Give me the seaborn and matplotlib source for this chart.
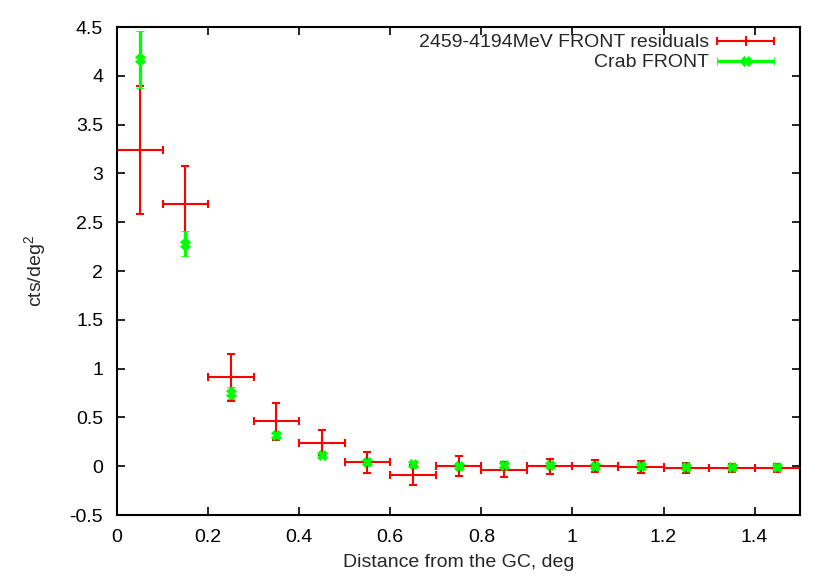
import numpy as np
import seaborn as sns
import matplotlib
matplotlib.use('Agg')
import matplotlib.pyplot as plt
from matplotlib.ticker import FuncFormatter, MultipleLocator
from matplotlib.container import ErrorbarContainer
from matplotlib.legend_handler import HandlerErrorbar

# Radial bins (deg from the GC)
bin_centers = [0.05, 0.15, 0.25, 0.35, 0.45, 0.55, 0.65, 0.75,
               0.85, 0.95, 1.05, 1.15, 1.25, 1.35, 1.45]
bin_half_width = [0.05] * 15

# 2459-4194MeV FRONT residuals
resid_counts = [3.24, 2.69, 0.91, 0.46, 0.24, 0.04, -0.09, 0.00,
                -0.035, 0.00, 0.00, -0.01, -0.015, -0.02, -0.02]
resid_err = [0.66, 0.39, 0.24, 0.19, 0.13, 0.11, 0.10, 0.10,
             0.077, 0.077, 0.063, 0.06, 0.05, 0.04, 0.04]

# Crab FRONT profile
crab_counts = [4.17, 2.28, 0.75, 0.32, 0.11, 0.045, 0.025, 0.007,
               0.01, 0.01, 0.00, 0.00, -0.005, -0.01, -0.01]
crab_err = [0.29, 0.13, 0.065, 0.03, 0.015, 0.01, 0.008, 0.006,
            0.005, 0.005, 0.005, 0.005, 0.004, 0.004, 0.004]

labels = ['2459-4194MeV FRONT residuals', 'Crab FRONT']

FS = 14

sns.set_theme(style='ticks')
plt.rcParams['font.family'] = ['Liberation Sans', 'DejaVu Sans']
plt.rcParams['axes.unicode_minus'] = False

fig = plt.figure(figsize=(8.3, 5.82), dpi=100)
ax = fig.add_axes([0.141, 0.1151, 0.823, 0.8385])

red = ax.errorbar(bin_centers, resid_counts, xerr=bin_half_width, yerr=resid_err,
                  fmt='|', color='#ff0000', markersize=7, markeredgewidth=1.5,
                  ecolor='#ff0000', elinewidth=1.5, capsize=2.6, capthick=1.5,
                  zorder=2)
green = ax.errorbar(bin_centers, crab_counts, yerr=crab_err,
                    fmt='X', color='#00ff00', markersize=6.5, markeredgewidth=0.6,
                    ecolor='#00ff00', elinewidth=2.4, capsize=2.6, capthick=2.4,
                    zorder=3)
# legend proxy: gnuplot draws the error bar key horizontally
crab_key = ax.errorbar([np.nan], [np.nan], xerr=[0.05], yerr=[0.05],
                       fmt='X', color='#00ff00', markersize=6.5, markeredgewidth=0.6,
                       ecolor='#00ff00', elinewidth=2.4, capsize=2.6, capthick=2.4)

ax.set_xlim(0, 1.5)
ax.set_ylim(-0.5, 4.5)
ax.xaxis.set_major_locator(MultipleLocator(0.2))
ax.yaxis.set_major_locator(MultipleLocator(0.5))
fmt = FuncFormatter(lambda v, p: '%g' % round(v, 3))
ax.xaxis.set_major_formatter(fmt)
ax.yaxis.set_major_formatter(fmt)

ax.tick_params(direction='in', length=6, width=1.2, top=True, right=True,
               labelsize=FS, pad=10, colors='black')
for s in ax.spines.values():
    s.set_linewidth(1.5)
    s.set_color('black')

ax.set_xlabel('Distance from the GC, deg', fontsize=FS, labelpad=6)
ax.set_ylabel(r'cts/deg$^\mathregular{2}$', fontsize=FS, labelpad=15)

ax.legend(handles=[red, crab_key], labels=labels, loc='upper right',
          bbox_to_anchor=(0.974, 1.002), borderaxespad=0, frameon=False,
          markerfirst=False, handlelength=2.95, handletextpad=0.42,
          labelspacing=0.12, fontsize=FS,
          handler_map={ErrorbarContainer: HandlerErrorbar(xerr_size=1.47, yerr_size=0.001)})

fig.savefig('out.png', dpi=100)
